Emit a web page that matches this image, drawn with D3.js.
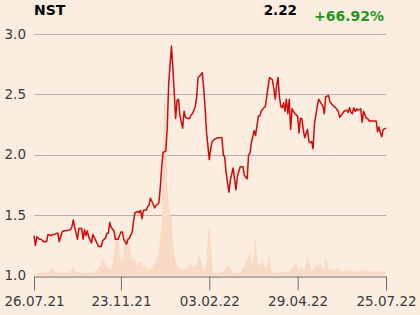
<!DOCTYPE html>
<html>
<head>
<meta charset="utf-8">
<script src="https://cdn.jsdelivr.net/npm/d3@7.9.0/dist/d3.min.js"></script>
<style>
  html, body { margin: 0; padding: 0; background: #fcede1; }
  svg { display: block; font-family: "DejaVu Sans", sans-serif; }
</style>
</head>
<body>
<div id="chart"></div>
<script>
// trading-day index (0..251) and closing price
const days = [0,1,2,4,5,7,9,10,12,13,15,16,17,18,20,21,23,26,27,28,29,31,32,34,35,36,37,38,39,41,42,44,46,48,49,51,52,53,54,55,57,58,60,62,63,64,66,67,68,70,71,72,74,75,76,77,78,80,81,82,83,85,86,87,89,90,91,92,94,95,96,98,99,100,101,102,103,104,106,107,108,110,111,112,113,115,116,117,118,120,121,122,123,125,126,127,129,131,134,135,136,137,139,140,142,144,145,147,149,150,152,153,154,155,157,158,160,161,162,164,165,167,168,170,171,172,173,174,175,176,177,178,179,180,181,182,183,184,185,186,188,189,190,191,192,193,195,196,197,198,199,200,202,203,204,206,207,208,210,211,213,215,217,218,220,221,223,224,225,226,227,228,229,230,231,233,234,235,237,238,239,241,243,244,245,246,247,248,249,251];
const prices = [1.33,1.25,1.32,1.30,1.30,1.28,1.28,1.34,1.33,1.34,1.34,1.35,1.35,1.28,1.36,1.37,1.37,1.38,1.40,1.46,1.40,1.30,1.39,1.39,1.30,1.38,1.33,1.37,1.32,1.27,1.34,1.29,1.24,1.24,1.29,1.31,1.35,1.35,1.44,1.40,1.37,1.30,1.30,1.36,1.36,1.30,1.26,1.30,1.31,1.36,1.45,1.52,1.53,1.52,1.54,1.47,1.54,1.54,1.57,1.58,1.64,1.59,1.56,1.58,1.60,1.72,1.89,2.02,2.03,2.22,2.58,2.90,2.72,2.52,2.30,2.45,2.46,2.33,2.22,2.36,2.31,2.30,2.30,2.33,2.34,2.40,2.48,2.64,2.65,2.68,2.55,2.39,2.19,1.96,2.05,2.11,2.13,2.14,2.14,2.00,1.98,1.85,1.69,1.79,1.89,1.71,1.82,1.90,1.90,1.83,1.80,2.00,2.01,2.10,2.20,2.16,2.32,2.32,2.36,2.39,2.40,2.57,2.64,2.62,2.55,2.46,2.57,2.64,2.48,2.40,2.39,2.43,2.36,2.46,2.34,2.46,2.21,2.38,2.36,2.34,2.32,2.18,2.30,2.30,2.21,2.14,2.21,2.11,2.10,2.11,2.05,2.26,2.40,2.46,2.44,2.40,2.34,2.48,2.49,2.44,2.41,2.39,2.36,2.31,2.34,2.36,2.37,2.35,2.39,2.35,2.34,2.39,2.36,2.38,2.37,2.38,2.27,2.36,2.30,2.30,2.28,2.28,2.28,2.28,2.19,2.23,2.18,2.15,2.21,2.22];

// volume (relative units)
const volDays = [0,3,6,9,11,13,15,17,20,23,26,28,30,33,36,39,41,44,47,48,50,51,53,54,56,57,58,59,60,61,63,64,65,66,68,69,71,72,73,75,76,78,79,81,82,83,85,86,88,89,90,91,92,93,94,95,96,97,98,99,100,101,103,104,106,107,108,110,111,113,114,115,116,117,118,119,121,122,123,124,125,126,127,128,130,131,133,134,135,137,138,140,141,143,144,145,147,148,150,151,153,154,155,156,157,158,159,160,161,163,164,165,167,168,169,170,173,175,177,179,181,183,185,187,188,190,191,193,194,195,197,198,200,201,203,204,205,207,208,210,211,213,214,215,217,218,220,221,223,224,225,227,228,230,231,233,234,235,237,238,240,241,242,244,245,247,248,250,251];
const volumes = [1.5,2.5,3.5,2.5,4.5,7.5,3.5,2.5,3.5,2.5,4.5,7.5,3.5,2.5,3.5,2.5,3.5,4.5,9.5,14.5,15.5,10.5,7.5,5.5,9.5,17.5,35.5,47.5,37.5,20.5,13.5,27.5,37.5,39.5,32.5,23.5,13.5,17.5,9.5,14.5,13.5,7.5,11.5,6.5,8.5,5.5,10.5,13.5,17.5,25.5,37.5,50.5,115.5,193.5,155.5,95,70.5,55.5,63.5,35.5,20.5,13.5,9.5,7.5,5.5,7.5,5.5,9.5,13.5,9.5,7.5,12.5,9.5,17.5,20.5,13.5,5.5,3.5,13.5,40.5,51.5,35.5,7.5,2.5,2.5,2.5,3.5,3.5,4.5,7.5,10.5,7.5,3.5,2.5,2.5,2.5,3.5,5.5,9.5,13.5,19.5,23.5,13.5,11.5,27.5,39.5,20.5,9.5,9.5,18.5,9.5,7.5,13.5,23.5,7.5,3.5,2.5,4.5,3.5,3.5,2.5,5.5,10.5,12.5,7.5,5.5,8.5,5.5,13.5,18.5,9.5,3.5,7.5,11.5,7.5,13.5,7.5,5.5,17.5,7.5,5.5,7.5,4.5,5.5,8.5,5.5,3.5,4.5,5.5,3.5,4.5,5.5,3.5,4.5,3.5,5.5,3.5,4.5,5.5,3.5,4.5,3.5,5.5,3.5,4.5,3.5,4.5,3.5,2.5];

const tickDays = [0, 62, 125, 188, 251];
const tickLabels = ['26.07.21', '23.11.21', '03.02.22', '29.04.22', '25.07.22'];
const yTicks = [1.0, 1.5, 2.0, 2.5, 3.0];

const symbol = 'NST';
const lastPrice = '2.22';
const change = '+66.92%';

const width = 420;
const height = 315;
const margin = { top: 34, right: 34, bottom: 40, left: 34 };

const svg = d3.select('#chart')
    .append('svg')
    .attr('width', width)
    .attr('height', height);

svg.append('rect').attr('width', width).attr('height', height).attr('fill', '#fcede1');

const x = d3.scaleLinear().domain([0, 251]).range([margin.left, width - margin.right]);
const y = d3.scaleLinear().domain([1, 3]).range([height - margin.bottom + 0.5, margin.top]);
const yVol = d3.scaleLinear().domain([0, 241]).range([height - margin.bottom + 0.5, margin.top]);

// gridlines
svg.append('g')
    .selectAll('line')
    .data(yTicks.slice(1))
    .join('line')
    .attr('x1', margin.left)
    .attr('x2', width - margin.right)
    .attr('y1', d => Math.round(y(d)) + 0.5)
    .attr('y2', d => Math.round(y(d)) + 0.5)
    .attr('stroke', '#b3b0ad')
    .attr('stroke-width', 1);

// volume area
const volData = volDays.map((d, i) => ({ day: d, v: volumes[i] }));
svg.append('path')
    .datum(volData)
    .attr('fill', '#f8dac5')
    .attr('d', d3.area()
        .x(d => x(d.day))
        .y0(yVol(0))
        .y1(d => yVol(d.v)));

// price line
const priceData = days.map((d, i) => ({ day: d, p: prices[i] }));
svg.append('path')
    .datum(priceData)
    .attr('fill', 'none')
    .attr('stroke', '#d10a0a')
    .attr('stroke-width', 1.5)
    .attr('stroke-linejoin', 'round')
    .attr('d', d3.line()
        .x(d => x(d.day))
        .y(d => y(d.p)));

// x axis
const xAxis = svg.append('g')
    .attr('transform', `translate(0, ${Math.round(y(1)) + 0.5})`)
    .call(d3.axisBottom(x)
        .tickValues(tickDays)
        .tickFormat((d, i) => tickLabels[i])
        .tickSize(14)
        .tickPadding(6)
        .tickSizeOuter(0));
xAxis.select('.domain').attr('stroke', '#6e6e6e');
xAxis.selectAll('.tick line').attr('stroke', '#6e6e6e');
xAxis.selectAll('.tick text')
    .attr('fill', '#3a3a3a')
    .style('font-size', '13.5px')
    .style('font-family', '"DejaVu Sans", sans-serif');

// y labels
svg.append('g')
    .selectAll('text')
    .data(yTicks)
    .join('text')
    .attr('x', 26)
    .attr('y', d => y(d))
    .attr('dy', '0.35em')
    .attr('text-anchor', 'end')
    .attr('fill', '#3a3a3a')
    .style('font-size', '13.5px')
    .text(d => d.toFixed(1));

// header
svg.append('text')
    .attr('x', 34)
    .attr('y', 15)
    .attr('font-weight', 'bold')
    .style('font-size', '14px')
    .attr('fill', '#000')
    .text(symbol);

svg.append('text')
    .attr('x', 297)
    .attr('y', 15)
    .attr('text-anchor', 'end')
    .attr('font-weight', 'bold')
    .style('font-size', '13.5px')
    .attr('fill', '#000')
    .text(lastPrice);

svg.append('text')
    .attr('x', 384)
    .attr('y', 21)
    .attr('text-anchor', 'end')
    .attr('font-weight', 'bold')
    .style('font-size', '14px')
    .attr('fill', '#1c9a1c')
    .text(change);
</script>
</body>
</html>
